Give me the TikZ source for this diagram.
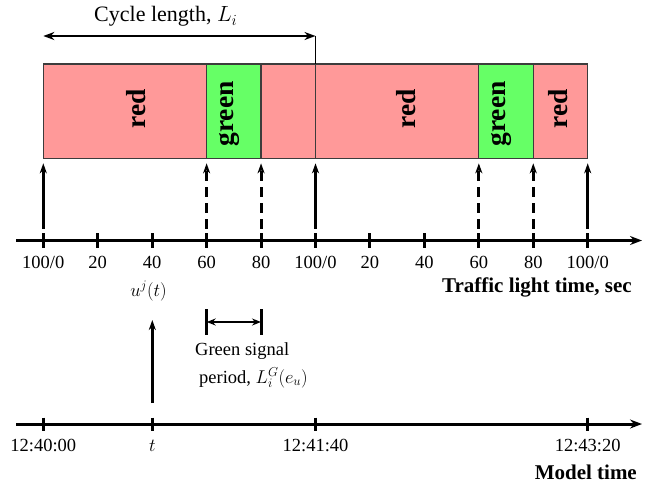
\documentclass[tikz,border=0pt]{standalone}
\usepackage{fix-cm}
\usepackage{fontspec}
\setmainfont{Liberation Serif}
\usetikzlibrary{arrows.meta}
\definecolor{phasered}{RGB}{255,153,153}
\definecolor{phasegreen}{RGB}{102,255,102}
\definecolor{edgegray}{RGB}{60,60,60}

\begin{document}
\begin{tikzpicture}[x=1pt,y=-1pt,
  axisline/.style={line width=3pt,-{Stealth[length=12pt,width=9pt,inset=4pt]}},
  tickmark/.style={line width=3pt},
  uparrow/.style={line width=3pt,-{Stealth[length=10pt,width=7pt,inset=3pt]}},
  updashed/.style={uparrow,dash pattern=on 10pt off 6pt},
  phaseedge/.style={draw=edgegray,line width=1.2pt},
  lbl/.style={font=\fontsize{18.5}{22}\selectfont,inner sep=0pt},
  biglbl/.style={font=\fontsize{22}{26}\selectfont,inner sep=0pt},
  boldlbl/.style={font=\fontsize{21}{25}\selectfont\bfseries,inner sep=0pt},
  phaselbl/.style={font=\fontsize{27.5}{30}\selectfont\bfseries,rotate=90,inner sep=0pt},
]
\useasboundingbox (0,0) rectangle (664,488);

% tick positions of the traffic light axis (every 20 s)
\foreach \i in {0,...,10} {
  \coordinate (ax\i) at ({43.3+\i*54.44},240.5);
  \coordinate (bx\i) at ({43.3+\i*54.44},158.3);
  \coordinate (tx\i) at ({43.3+\i*54.44},64);
}

% signal phases
\fill[phasered]   (tx0) rectangle (bx3);
\fill[phasegreen] (tx3) rectangle (bx4);
\fill[phasered]   (tx4) rectangle (bx8);
\fill[phasegreen] (tx8) rectangle (bx9);
\fill[phasered]   (tx9) rectangle (bx10);
\draw[phaseedge] (tx0) rectangle (bx10);
\foreach \i in {3,4,5,8,9} \draw[phaseedge] (tx\i) -- (bx\i);

\node[phaselbl] (r1) at (136.5,108.5) {red};
\node[phaselbl] (g1) at (229,114) {green};
\node[phaselbl] (r2) at (406,108.5) {red};
\node[phaselbl] (g2) at (501,114) {green};
\node[phaselbl] (r3) at (558.5,108.5) {red};

% cycle length
\coordinate (cl0) at (43.3,36);
\coordinate (cl1) at (315.5,36);
\draw[line width=2.6pt,{Stealth[length=11pt,width=8pt,inset=3.5pt]}-{Stealth[length=11pt,width=8pt,inset=3.5pt]}] (cl0) -- (cl1);
\draw[line width=0.9pt] (cl1) -- (tx5);
\node[biglbl,anchor=base west] (cltxt) at (94,21.7) {Cycle length, $L_i$};

% arrows from the axis up to the phase changes
\foreach \i in {0,5,10} \draw[uparrow] ([yshift=12pt]ax\i) -- ([yshift=-5pt]bx\i);
\foreach \i in {3,4,8,9} \draw[updashed] ([yshift=12pt]ax\i) -- ([yshift=-5pt]bx\i);

% traffic light time axis
\coordinate (tla0) at (16,240.5);
\coordinate (tla1) at (642,240.5);
\draw[axisline] (tla0) -- (tla1);
\foreach \i in {0,...,10} \draw[tickmark] ([yshift=7.5pt]ax\i) -- ([yshift=-7.5pt]ax\i);
\foreach \i/\t in {0/100\slash 0,1/20,2/40,3/60,4/80,5/100\slash 0,6/20,7/40,8/60,9/80,10/100\slash 0}
  \node[lbl,anchor=base] (tl\i) at ([yshift=-27.5pt]ax\i) {\t};
\node[lbl,anchor=base] (uj) at (148.5,296) {$u^j(t)$};
\node[boldlbl,anchor=base east] (tlname) at (632,292) {Traffic light time, sec};

% green signal period
\coordinate (gp0) at (206.7,322);
\coordinate (gp1) at (261,322);
\draw[tickmark] (206.7,309) -- (206.7,335);
\draw[tickmark] (261,309) -- (261,335);
\draw[line width=1.6pt,{Stealth[length=9pt,width=7pt,inset=3pt]}-{Stealth[length=9pt,width=7pt,inset=3pt]}] (gp0) -- (gp1);
\node[lbl,anchor=base west] (gs1) at (195,355) {Green signal};
\node[lbl,anchor=base west] (gs2) at (199,383) {period, $L_i^G(e_u)$};

% model time axis
\coordinate (ma0) at (16,424);
\coordinate (ma1) at (642,424);
\coordinate (m0) at (43.3,424);
\coordinate (mt) at (152.3,424);
\coordinate (m1) at (315.5,424);
\coordinate (m2) at (587.7,424);
\draw[axisline] (ma0) -- (ma1);
\foreach \c in {m0,mt,m1,m2} \draw[tickmark] ([yshift=6.5pt]\c) -- ([yshift=-6.5pt]\c);
\draw[uparrow] ([yshift=21pt]mt) -- (152.3,320);
\node[lbl,anchor=base] (ml0) at ([yshift=-27pt]m0) {12:40:00};
\node[lbl,anchor=base] (mlt) at ([yshift=-27pt]mt) {$t$};
\node[lbl,anchor=base] (ml1) at ([yshift=-27pt]m1) {12:41:40};
\node[lbl,anchor=base] (ml2) at ([yshift=-27pt]m2) {12:43:20};
\node[boldlbl,anchor=base east] (mtname) at (637,479) {Model time};
\end{tikzpicture}
\end{document}
